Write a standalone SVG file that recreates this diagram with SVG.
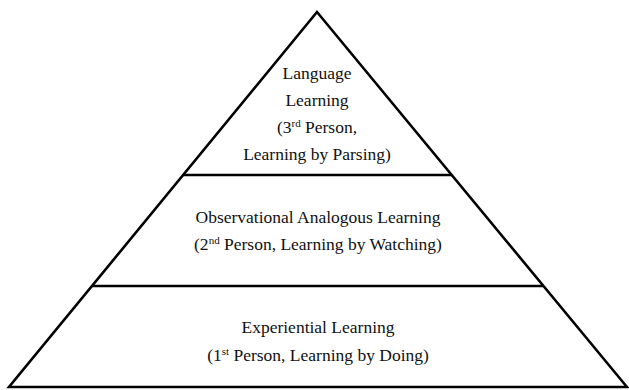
<svg xmlns="http://www.w3.org/2000/svg" width="629" height="390" viewBox="0 0 629 390">
  <style>
    .edge { fill: none; stroke: #000; stroke-width: 2.6; stroke-linejoin: miter; }
    .label { font-family: 'Liberation Serif', 'Times New Roman', 'DejaVu Serif', serif; font-size: 17.5px; fill: #111; text-anchor: middle; }
    .sup { font-size: 11px; }
  </style>
  <rect width="629" height="390" fill="#fff"/>
  <g id="connectors">
    <!-- pyramid outline -->
    <polygon class="edge" points="317,12 627,387 9,387"/>
    <!-- tier dividers -->
    <line class="edge" x1="183" y1="175" x2="452" y2="175"/>
    <line class="edge" x1="92" y1="286" x2="543" y2="286"/>
  </g>
  <g id="tier-language" font-family="Liberation Serif, serif">
    <text class="label" x="317" y="79">Language</text>
    <text class="label" x="317" y="106">Learning</text>
    <text class="label" x="317" y="133">(3<tspan class="sup" dy="-6">rd</tspan><tspan dy="6"> Person,</tspan></text>
    <text class="label" x="317" y="160">Learning by Parsing)</text>
  </g>
  <g id="tier-observational">
    <text class="label" x="318" y="223">Observational Analogous Learning</text>
    <text class="label" x="318" y="250">(2<tspan class="sup" dy="-6">nd</tspan><tspan dy="6"> Person, Learning by Watching)</tspan></text>
  </g>
  <g id="tier-experiential">
    <text class="label" x="318" y="333">Experiential Learning</text>
    <text class="label" x="318" y="361">(1<tspan class="sup" dy="-6">st</tspan><tspan dy="6"> Person, Learning by Doing)</tspan></text>
  </g>
</svg>
